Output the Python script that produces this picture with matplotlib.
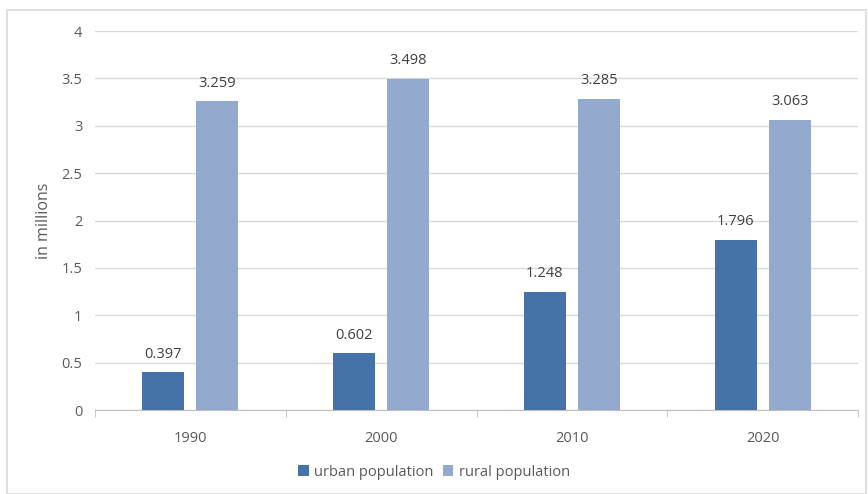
import matplotlib
matplotlib.use("Agg")
import matplotlib.pyplot as plt
import numpy as np
from matplotlib.patches import Rectangle

years = ["1990", "2000", "2010", "2020"]
urban = [0.397, 0.602, 1.248, 1.796]
rural = [3.259, 3.498, 3.285, 3.063]
yticks = [0, 0.5, 1, 1.5, 2, 2.5, 3, 3.5, 4]
ytick_labels = ["0", "0.5", "1", "1.5", "2", "2.5", "3", "3.5", "4"]

plt.rcParams['font.family'] = ['Open Sans', 'DejaVu Sans']

W, H = 868, 494
fig = plt.figure(figsize=(W/100, H/100), dpi=100)
# outer border
fig.patches.append(Rectangle((7/W, 0), (W-9)/W, (H-10)/H, transform=fig.transFigure,
                             fill=False, edgecolor='#d9d9d9', linewidth=1.2))

ax = fig.add_axes([95/W, (H-410)/H, (858-95)/W, (410-31)/H])
x = np.arange(len(years))
bw = 0.22
off = 0.142
c_urban = '#4672AA'
c_rural = '#93A9CD'
ax.bar(x - off, urban, bw, color=c_urban, label='urban population', zorder=3)
ax.bar(x + off, rural, bw, color=c_rural, label='rural population', zorder=3)

txtc = '#404040'
for i in range(len(years)):
    ax.text(x[i] - off, urban[i] + 0.11, f"{urban[i]:.3f}", ha='center', va='bottom', fontsize=10.5, color=txtc)
    ax.text(x[i] + off, rural[i] + 0.11, f"{rural[i]:.3f}", ha='center', va='bottom', fontsize=10.5, color=txtc)

ax.set_xlim(-0.5, len(years) - 0.5)
ax.set_ylim(0, 4)
ax.set_yticks(yticks)
ax.set_yticklabels(ytick_labels)
ax.grid(axis='y', color='#d9d9d9', linewidth=1, zorder=0)
for s in ['top', 'right', 'left']:
    ax.spines[s].set_visible(False)
ax.spines['bottom'].set_color('#bfbfbf')
ax.tick_params(axis='y', length=0, labelsize=10.5, labelcolor='#595959', pad=9)
ax.set_xticks(x)
ax.set_xticklabels(years)
ax.tick_params(axis='x', length=0, labelsize=10.5, labelcolor='#595959', pad=15)
ax.set_xticks(np.arange(len(years) + 1) - 0.5, minor=True)
ax.tick_params(axis='x', which='minor', length=5, color='#bfbfbf')
ax.set_ylabel('in millions', fontsize=11.5, color='#595959', labelpad=7)

ax.legend(loc='center', bbox_to_anchor=(0.5, (H-472)/H), bbox_transform=fig.transFigure,
          ncol=2, frameon=False, fontsize=10.5, handlelength=0.7, handleheight=0.7,
          columnspacing=0.6, handletextpad=0.4, labelcolor='#595959')

fig.savefig('out.png', dpi=100)
